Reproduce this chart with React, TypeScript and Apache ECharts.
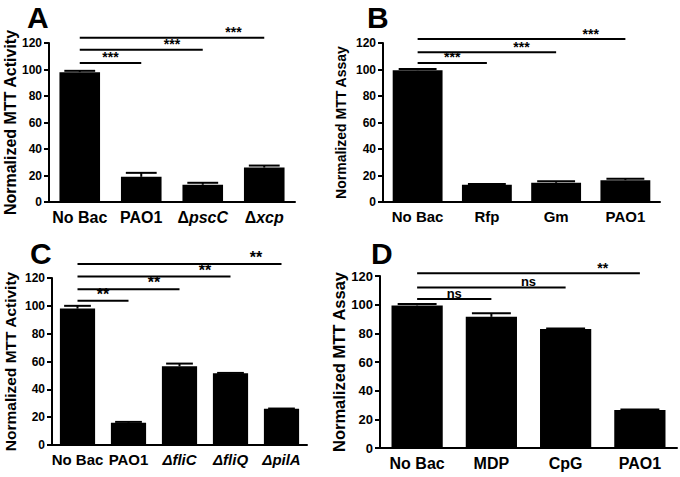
import React, { useEffect, useRef } from "react";
import * as echarts from "echarts";

// ---------- data ----------
const yTicks = [0, 20, 40, 60, 80, 100, 120];

const catsA = ["No Bac", "PAO1", "ΔpscC", "Δxcp"];
const valsA = [98, 19, 13, 26];
const errA = [99, 22, 14.5, 27.5];
const sigA = [[0, 3, 124], [0, 2, 115], [0, 1, 105]];
const sigLabelsA = ["***", "***", "***"];

const catsB = ["No Bac", "Rfp", "Gm", "PAO1"];
const valsB = [99.5, 13, 14.5, 16.5];
const errB = [100.3, 13.6, 15.6, 17.6];
const sigB = [[0, 3, 123], [0, 2, 113], [0, 1, 105]];
const sigLabelsB = ["***", "***", "***"];

const catsC = ["No Bac", "PAO1", "ΔfliC", "ΔfliQ", "ΔpilA"];
const valsC = [98, 16, 56.5, 51.5, 26];
const errC = [100, 16.6, 58.5, 51.8, 26.2];
const sigC = [[0, 4, 130], [0, 3, 121], [0, 2, 112], [0, 1, 103.6]];
const sigLabelsC = ["**", "**", "**", "**"];

const catsD = ["No Bac", "MDP", "CpG", "PAO1"];
const valsD = [99.5, 91.5, 83, 26.5];
const errD = [100.5, 94, 83.4, 26.9];
const sigD = [[0, 3, 122], [0, 2, 112], [0, 1, 104]];
const sigLabelsD = ["**", "ns", "ns"];

const FONT = "'Liberation Sans', Arial, sans-serif";

type Panel = {
  letter: string;
  cats: string[];
  vals: number[];
  err: number[];
  sig: number[][];
  sigLabels: string[];
  title: string;
  grid: { left: number; top: number; width: number; height: number };
  barPct: number;
  nameGap: number;
  titleSize: number;
  tickSize: number;
  catSize: number;
  catItalicAll: boolean;
  starSize: number;
  lineW: number;
  letterPos: [number, number];
};

const panels: Panel[] = [
  {
    letter: "A", cats: catsA, vals: valsA, err: errA, sig: sigA, sigLabels: sigLabelsA,
    title: "Normalized MTT Activity",
    grid: { left: 49, top: 43, width: 246, height: 159 },
    barPct: 0.66, nameGap: 31, titleSize: 16, tickSize: 12, catSize: 16, catItalicAll: false,
    starSize: 14, lineW: 2, letterPos: [27, 2],
  },
  {
    letter: "B", cats: catsB, vals: valsB, err: errB, sig: sigB, sigLabels: sigLabelsB,
    title: "Normalized MTT Assay",
    grid: { left: 383, top: 43, width: 277, height: 159 },
    barPct: 0.72, nameGap: 35, titleSize: 14, tickSize: 12, catSize: 15, catItalicAll: false,
    starSize: 14, lineW: 2, letterPos: [367, 2],
  },
  {
    letter: "C", cats: catsC, vals: valsC, err: errC, sig: sigC, sigLabels: sigLabelsC,
    title: "Normalized MTT Activity",
    grid: { left: 52, top: 278, width: 255, height: 167 },
    barPct: 0.69, nameGap: 34, titleSize: 15.5, tickSize: 12, catSize: 15, catItalicAll: true,
    starSize: 16, lineW: 2, letterPos: [30, 238],
  },
  {
    letter: "D", cats: catsD, vals: valsD, err: errD, sig: sigD, sigLabels: sigLabelsD,
    title: "Normalized MTT Assay",
    grid: { left: 380, top: 276, width: 297, height: 172 },
    barPct: 0.69, nameGap: 31, titleSize: 16.5, tickSize: 13, catSize: 16, catItalicAll: false,
    starSize: 14, lineW: 2, letterPos: [371, 238],
  },
];

function buildOption() {
  const grid: any[] = [];
  const xAxis: any[] = [];
  const yAxis: any[] = [];
  const series: any[] = [];
  const graphic: any[] = [];

  panels.forEach((p, i) => {
    grid.push({ ...p.grid, containLabel: false });
    xAxis.push({
      type: "category",
      gridIndex: i,
      data: p.cats,
      axisLine: { lineStyle: { color: "#000", width: 2 } },
      axisTick: { alignWithLabel: true, length: 5, lineStyle: { color: "#000", width: 2 } },
      axisLabel: {
        margin: 7,
        interval: 0,
        color: "#000",
        fontFamily: FONT,
        fontWeight: "bold",
        fontSize: p.catSize,
        formatter: (v: string) =>
          v.startsWith("Δ") ? `{d|Δ}{i|${v.slice(1)}}` : v,
        rich: {
          d: {
            fontFamily: FONT, fontWeight: "bold", fontSize: p.catSize, color: "#000",
            fontStyle: p.catItalicAll ? "italic" : "normal",
          },
          i: {
            fontFamily: FONT, fontWeight: "bold", fontSize: p.catSize, color: "#000",
            fontStyle: "italic",
          },
        },
      },
    });
    yAxis.push({
      type: "value",
      gridIndex: i,
      min: yTicks[0],
      max: yTicks[yTicks.length - 1],
      interval: yTicks[1] - yTicks[0],
      splitLine: { show: false },
      axisLine: { show: true, lineStyle: { color: "#000", width: 2 } },
      axisTick: { show: true, length: 5, lineStyle: { color: "#000", width: 2 } },
      axisLabel: {
        margin: 7, color: "#000", fontFamily: FONT, fontWeight: "bold", fontSize: p.tickSize,
      },
      name: p.title,
      nameLocation: "middle",
      nameGap: p.nameGap,
      nameTextStyle: {
        color: "#000", fontFamily: FONT, fontWeight: "bold", fontSize: p.titleSize,
      },
    });
    series.push({
      type: "bar",
      xAxisIndex: i,
      yAxisIndex: i,
      data: p.vals,
      barWidth: `${Math.round(p.barPct * 100)}%`,
      itemStyle: { color: "#000" },
      silent: true,
    });
    // error bars
    series.push({
      type: "custom",
      xAxisIndex: i,
      yAxisIndex: i,
      data: p.vals.map((v, k) => [k, v, p.err[k]]),
      encode: { x: 0, y: [1, 2] },
      clip: false,
      silent: true,
      z: 3,
      renderItem: (params: any, api: any) => {
        const x = api.value(0);
        const base = api.coord([x, api.value(1)]);
        const top = api.coord([x, api.value(2)]);
        const bw = api.size([1, 0])[0] * p.barPct;
        const hw = bw * 0.38;
        return {
          type: "group",
          children: [
            {
              type: "line",
              shape: { x1: base[0], y1: base[1], x2: top[0], y2: top[1] },
              style: { stroke: "#000", lineWidth: 2 },
            },
            {
              type: "line",
              shape: { x1: top[0] - hw, y1: top[1], x2: top[0] + hw, y2: top[1] },
              style: { stroke: "#000", lineWidth: 2 },
            },
          ],
        };
      },
    });
    // significance lines
    series.push({
      type: "custom",
      xAxisIndex: i,
      yAxisIndex: i,
      data: p.sig,
      encode: { x: [0, 1], y: 2 },
      clip: false,
      silent: true,
      z: 4,
      renderItem: (params: any, api: any) => {
        const s = api.value(0);
        const e = api.value(1);
        const y = api.value(2);
        const a = api.coord([s, y]);
        const b = api.coord([e, y]);
        const step = api.size([1, 0])[0];
        const mx = b[0] - step / 2;
        const lab = p.sigLabels[params.dataIndex];
        const isNs = lab === "ns";
        return {
          type: "group",
          children: [
            {
              type: "line",
              shape: { x1: a[0], y1: a[1], x2: b[0], y2: b[1] },
              style: { stroke: "#000", lineWidth: p.lineW },
            },
            {
              type: "text",
              x: mx,
              y: a[1] + (isNs ? 1 : 1.5),
              style: {
                text: lab,
                fill: "#000",
                font: `bold ${isNs ? 13 : p.starSize}px ${FONT}`,
                textAlign: "center",
                textVerticalAlign: "bottom",
              },
            },
          ],
        };
      },
    });
    graphic.push({
      type: "text",
      left: p.letterPos[0],
      top: p.letterPos[1],
      style: {
        text: p.letter,
        fill: "#000",
        font: `bold 30px ${FONT}`,
      },
    });
  });

  return {
    animation: false,
    backgroundColor: "#fff",
    grid,
    xAxis,
    yAxis,
    series,
    graphic,
  };
}

export default function App() {
  const ref = useRef<HTMLDivElement>(null);
  useEffect(() => {
    if (!ref.current) return;
    const chart = echarts.init(ref.current, undefined, { renderer: "svg" });
    chart.setOption(buildOption() as any);
    return () => chart.dispose();
  }, []);
  return (
    <div
      ref={ref}
      style={{ position: "fixed", left: 0, top: 0, width: 680, height: 477, background: "#fff" }}
    />
  );
}
